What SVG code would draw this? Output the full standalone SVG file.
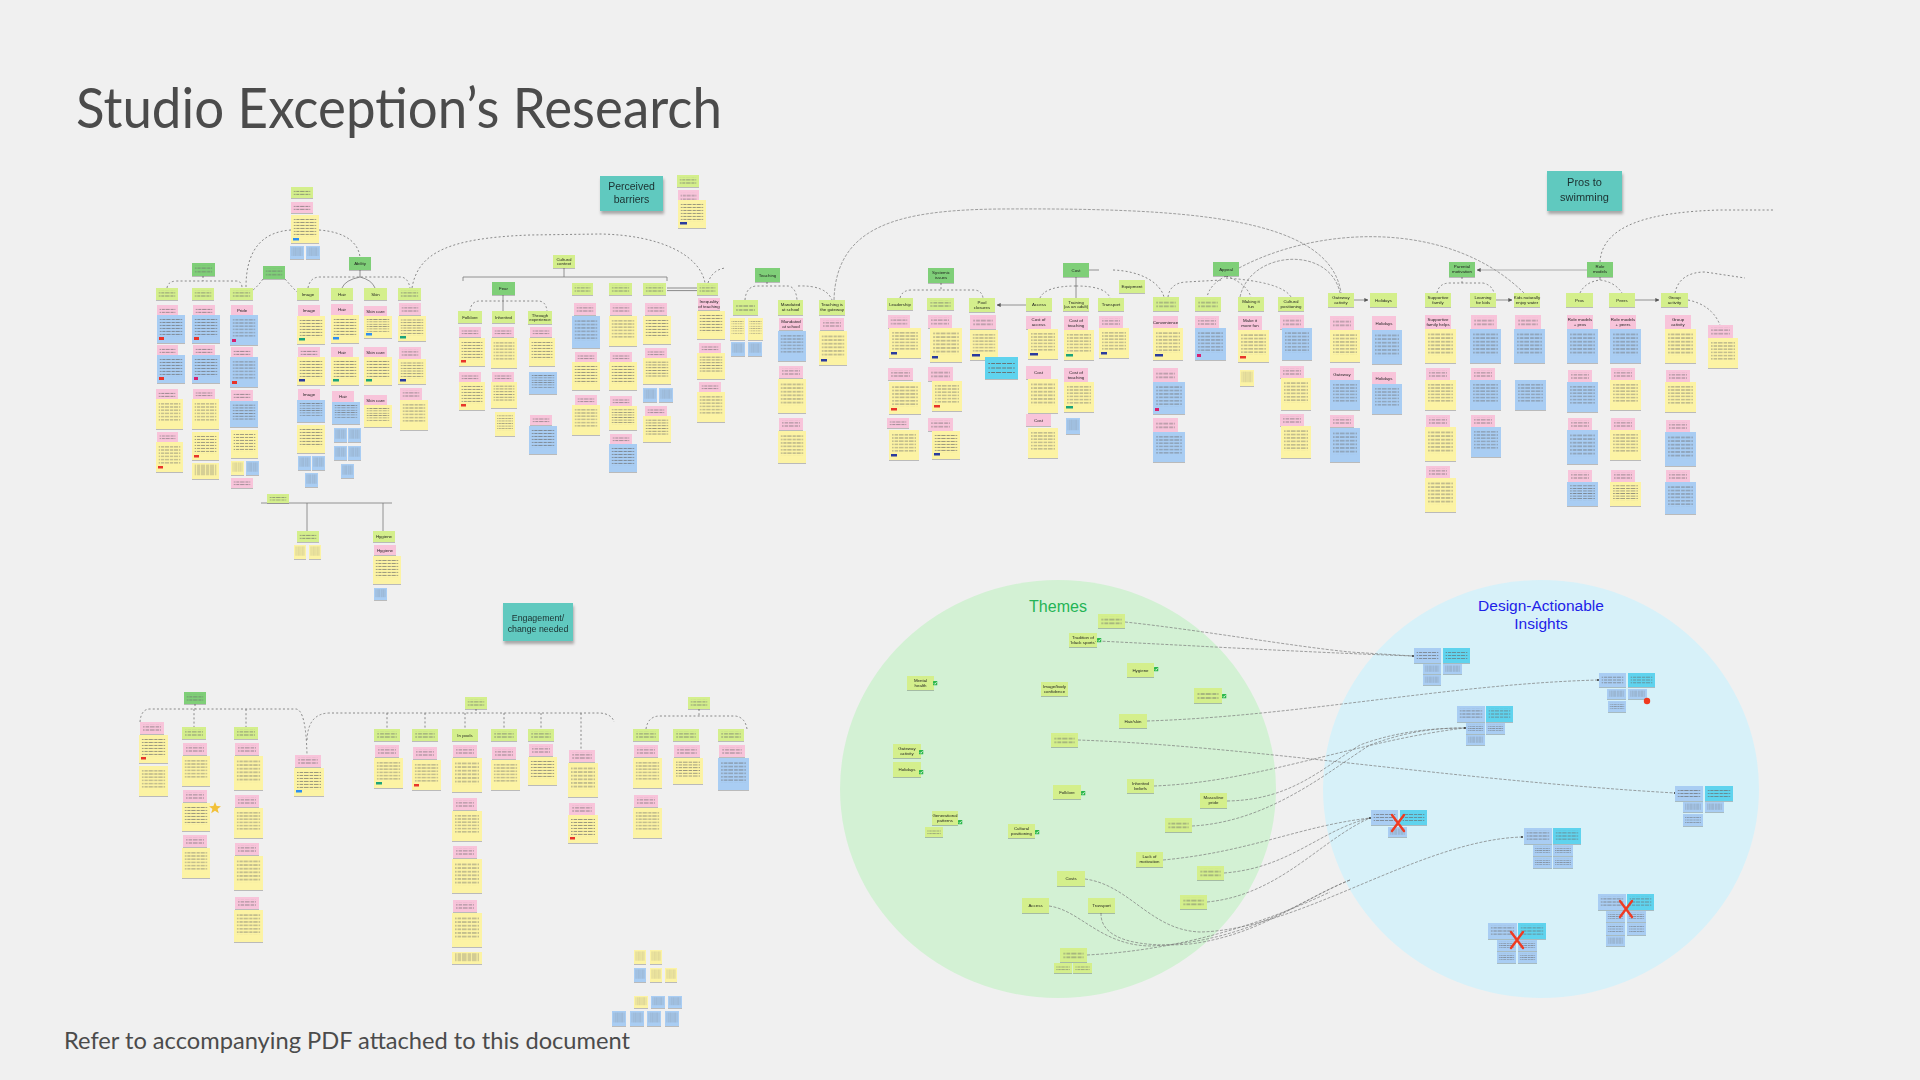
<svg xmlns="http://www.w3.org/2000/svg" width="1920" height="1080" viewBox="0 0 1920 1080">
<style>
.y{fill:#fcf3a4}.b{fill:#a9cdf3}.p{fill:#f8c4da}.g{fill:#d4ef8c}.d{fill:#7fcf78}.c{fill:#5fd3ee}.tl{fill:#60c9bf}
.tn{fill:#2b3a9e}.tr{fill:#e8352a}.tt{fill:#1aa37a}.tb{fill:#2d8ff0}.tm{fill:#d6246f}
.t{font-family:"Liberation Sans",Arial,sans-serif;font-size:4.4px;fill:#1f1f1f;text-anchor:middle}
.tt2{font-family:"Liberation Sans",Arial,sans-serif;fill:#1c3030;text-anchor:middle}
.con{fill:none;stroke:#6e6e6e;stroke-width:0.8;stroke-dasharray:2 2.2}
.sol{fill:none;stroke:#7a7a7a;stroke-width:0.8}
.lnk{fill:none;stroke:#7a7a7a;stroke-width:0.7;stroke-dasharray:3 1.5}
.x{stroke:#ef3b22;stroke-width:2.4;stroke-linecap:round}
.ck{fill:#2bb84a}
</style>
<defs>
<pattern id="tl" patternUnits="userSpaceOnUse" width="10" height="3.2"><path d="M0 1.6H4.6M5.6 1.6H9.2" stroke="#6a6a6a" stroke-width="0.7"/></pattern>
<filter id="sh" x="-5%" y="-5%" width="110%" height="115%"><feDropShadow dx="0" dy="0.8" stdDeviation="0.5" flood-color="#000" flood-opacity="0.28"/></filter>
<filter id="sh2" x="-10%" y="-10%" width="125%" height="140%"><feDropShadow dx="1" dy="3" stdDeviation="1.5" flood-color="#000" flood-opacity="0.3"/></filter>
<symbol id="Y" viewBox="0 0 30 30" preserveAspectRatio="none"><rect width="30" height="30" fill="#fcf3a4"/><rect x="3" y="3" width="24" height="20" fill="url(#tl)"/></symbol>
<symbol id="B" viewBox="0 0 30 30" preserveAspectRatio="none"><rect width="30" height="30" fill="#a9cdf3"/><rect x="3" y="3" width="24" height="20" fill="url(#tl)"/></symbol>
<symbol id="C" viewBox="0 0 30 16" preserveAspectRatio="none"><rect width="30" height="16" fill="#5fd3ee"/><rect x="3" y="2.5" width="24" height="10" fill="url(#tl)"/></symbol>
<symbol id="Bs" viewBox="0 0 30 16" preserveAspectRatio="none"><rect width="30" height="16" fill="#a9cdf3"/><rect x="3" y="2.5" width="24" height="10" fill="url(#tl)"/></symbol>
<symbol id="P" viewBox="0 0 24 12" preserveAspectRatio="none"><rect width="24" height="12" fill="#f8c4da"/><rect x="3" y="2.5" width="18" height="7" fill="url(#tl)"/></symbol>
<symbol id="GL" viewBox="0 0 24 12" preserveAspectRatio="none"><rect width="24" height="12" fill="#d4ef8c"/><rect x="3" y="2.5" width="18" height="7" fill="url(#tl)"/></symbol>
<symbol id="DL" viewBox="0 0 24 12" preserveAspectRatio="none"><rect width="24" height="12" fill="#7fcf78"/><rect x="3" y="2.5" width="18" height="7" fill="url(#tl)"/></symbol>
<marker id="ah" viewBox="0 0 6 6" refX="5.5" refY="3" markerWidth="5" markerHeight="5" orient="auto"><path d="M0,0 L6,3 L0,6z" fill="#555"/></marker>
<symbol id="ckm" viewBox="0 0 5 5"><rect width="5" height="5" rx="0.6" fill="#2bb84a"/><path d="M1 2.6L2.1 3.7L4 1.3" fill="none" stroke="#fff" stroke-width="0.8"/></symbol>
</defs>
<rect width="1920" height="1080" fill="#f0f0f0"/>

<text x="76" y="128" font-family="Lato, 'Liberation Sans', sans-serif" font-size="56" fill="#4b4b4b" textLength="646" lengthAdjust="spacingAndGlyphs">Studio Exception’s Research</text>
<text x="64" y="1049" font-family="Lato, 'Liberation Sans', sans-serif" font-size="23" fill="#4b4b4b" textLength="566" lengthAdjust="spacingAndGlyphs">Refer to accompanying PDF attached to this document</text>

<!-- circles -->
<ellipse cx="1058" cy="789" rx="218" ry="209" fill="#d3f1d4"/>
<ellipse cx="1541" cy="789" rx="218" ry="209" fill="#d7f1f9"/>
<text x="1058" y="612" font-family="'Liberation Sans',Arial,sans-serif" font-size="16" fill="#23b455" text-anchor="middle">Themes</text>
<text font-family="'Liberation Sans',Arial,sans-serif" font-size="15.5" fill="#1d22e8" text-anchor="middle"><tspan x="1541" y="611">Design-Actionable</tspan><tspan x="1541" y="629">Insights</tspan></text>

<!-- teal titles -->
<g id="perceived-barriers" filter="url(#sh2)"><rect class="tl" x="600" y="176" width="63" height="35"/><text class="tt2" font-size="10.5"><tspan x="631.5" y="189.5">Perceived</tspan><tspan x="631.5" y="203">barriers</tspan></text></g>
<g id="pros-to-swimming" filter="url(#sh2)"><rect class="tl" x="1547" y="171" width="75" height="40"/><text class="tt2" font-size="11"><tspan x="1584.5" y="186">Pros to</tspan><tspan x="1584.5" y="201">swimming</tspan></text></g>
<g id="engagement" filter="url(#sh2)"><rect class="tl" x="503" y="603" width="70" height="38"/><text class="tt2" font-size="8.8"><tspan x="538" y="621">Engagement/</tspan><tspan x="538" y="632">change needed</tspan></text></g>

<!-- connectors -->
<g id="connectors">
<path class="con" d="M291,230 C262,232 246,250 246,287"/>
<path class="con" d="M319,230 C345,232 358,242 360,257"/>
<path class="con" d="M167,288 Q168,281 177,281 L236,281 Q242,281 242,288 M203,276 V281"/>
<path class="con" d="M263,279 Q258,286 253,290 M285,279 Q292,287 297,292"/>
<path class="con" d="M308,288 Q310,277 320,277 L400,277 Q408,277 410,288"/>
<path class="sol" d="M360,270 V277 M360,277 Q345,280 342,288 M360,277 Q372,280 375,288"/>
<path class="con" d="M412,288 C418,252 450,238 530,235 L600,234 C660,235 700,255 705,283"/>
<path class="sol" d="M261,503 H392 M307,503 V531 M383,503 V531"/>
<path class="sol" d="M463,281 V277 H667 V281 M564,268 V277"/>
<path class="con" d="M470,311 Q471,301 480,301 L538,301 Q546,301 547,311"/>
<path class="sol" d="M503,295 V311"/>
<path d="M667,288 H697 M667,290.6 H697" stroke="#8a8a8a" stroke-width="1" fill="none"/>
<path class="con" d="M708,283 Q712,270 725,268"/>
<path class="con" d="M745,300 Q746,287 756,286 L788,286 Q796,287 797,300 M767,282 V286 M798,286 Q826,285 832,300"/>
<path class="lnk" d="M834,300 C836,225 900,210 1000,209 C1180,208 1330,215 1341,293"/>
<path class="con" d="M900,298 Q902,290 912,290 L975,290 Q982,291 983,298 M941,283 V290"/>
<path class="sol" d="M1026,305 H997" marker-end="url(#ah)"/>
<path class="sol" d="M1076,277 V298"/>
<path class="con" d="M1076,286 Q1045,286 1040,298 M1076,286 Q1106,286 1110,298"/>
<path class="sol" d="M1089,270 H1099"/>
<path class="con" d="M1113,270 C1140,271 1160,282 1164,297"/>
<path class="con" d="M1168,297 Q1170,283 1186,282 L1222,280 M1226,276 Q1210,284 1207,297 M1226,276 Q1246,283 1251,297 M1226,278 Q1282,282 1291,297"/>
<path class="lnk" d="M1240,297 C1250,250 1330,245 1340,293"/>
<path class="lnk" d="M1239,268 C1320,225 1450,220 1524,293"/>
<path class="sol" d="M1354,300 H1368" marker-end="url(#ah)"/>
<path class="con" d="M1437,293 Q1439,283 1450,283 L1483,283 Q1492,285 1494,293 M1462,277 V283"/>
<path class="sol" d="M1496,300 H1512" marker-end="url(#ah)"/>
<path d="M1587,270 H1477" stroke="#9a9a9a" stroke-width="0.8" fill="none" marker-end="url(#ah)"/>
<path class="con" d="M1580,293 Q1585,282 1600,280 Q1615,282 1622,293"/>
<path class="sol" d="M1600,277 V280"/>
<path class="sol" d="M1635,300 H1659" marker-end="url(#ah)"/>
<path class="con" d="M1688,300 Q1712,305 1720,325 M1675,293 C1678,278 1690,272 1705,272 L1745,278"/>
<path class="con" d="M1600,262 C1602,225 1650,212 1720,210 L1775,210"/>
<!-- lower -->
<path class="con" d="M140,722 Q141,709 150,709 L296,709 Q306,710 307,755 M195,704 V709 M194,709 V727 M246,709 V727"/>
<path class="con" d="M307,740 Q308,713 330,713 L600,713 Q612,714 614,722 M476,709 V713 M387,713 V729 M425,713 V729 M465,713 V729 M504,713 V729 M541,713 V729 M581,713 V750"/>
<path class="con" d="M646,729 Q648,716 660,716 L735,716 Q745,717 747,729 M699,709 V716"/>
<!-- themes to insights -->
<path class="lnk" d="M1125,622 C1200,630 1290,646 1350,652 L1413,656"/>
<path class="lnk" d="M1098,641 C1200,646 1300,652 1413,656"/>
<path class="lnk" d="M1147,721 C1300,716 1450,684 1598,680"/>
<path class="lnk" d="M1078,740 C1250,746 1450,780 1675,793"/>
<path class="lnk" d="M1154,786 C1260,782 1360,740 1465,728"/>
<path class="lnk" d="M1227,801 C1290,800 1320,770 1360,745 C1400,730 1440,728 1465,728"/>
<path class="lnk" d="M1192,826 C1270,822 1330,770 1370,745 C1410,730 1440,728 1465,728"/>
<path class="lnk" d="M1163,860 C1250,852 1300,826 1370,818"/>
<path class="lnk" d="M1224,873 C1290,868 1320,830 1370,818"/>
<path class="lnk" d="M1207,902 C1280,895 1320,840 1370,818"/>
<path class="lnk" d="M1085,879 C1130,885 1150,930 1200,932 C1300,930 1420,840 1522,837"/>
<path class="lnk" d="M1049,906 C1080,910 1100,945 1150,946 C1250,942 1300,900 1350,880"/>
<path class="lnk" d="M1101,913 C1100,940 1140,948 1190,944 C1260,935 1300,900 1350,880"/>
<path class="lnk" d="M1087,955 C1180,950 1260,925 1330,892"/>
<circle cx="1598" cy="680" r="1" fill="#333"/><circle cx="1413" cy="656" r="1" fill="#333"/><circle cx="1465" cy="728" r="1" fill="#333"/><circle cx="1370" cy="818" r="1" fill="#333"/><circle cx="1522" cy="837" r="1" fill="#333"/><circle cx="1675" cy="793" r="1" fill="#333"/>
</g>

<!-- ===== TOP LEFT CLUSTER ===== -->
<g id="top-stack" filter="url(#sh)">
<use href="#GL" x="291" y="187" width="22" height="11"/>
<use href="#P" x="291" y="202" width="22" height="11"/>
<use href="#Y" x="291" y="215" width="28" height="28"/><rect class="tb" x="293" y="238" width="6" height="2.5"/>
<use href="#B" x="290" y="246" width="14" height="13"/><use href="#B" x="306" y="246" width="14" height="13"/>
</g>
<g id="sub-headers" filter="url(#sh)">
<use href="#DL" x="192" y="263" width="23" height="13"/>
<use href="#DL" x="263" y="266" width="22" height="13"/>
<rect class="d" x="349" y="257" width="22" height="13"/><text class="t" x="360" y="265.2">Ability</text>
</g>
<g id="col-a" filter="url(#sh)">
<use href="#GL" x="156" y="288" width="22" height="12"/>
<use href="#P" x="157" y="305" width="21" height="11"/>
<use href="#B" x="157" y="315" width="28" height="28"/><rect class="tr" x="159" y="337" width="5" height="3"/>
<use href="#P" x="157" y="345" width="21" height="11"/>
<use href="#B" x="157" y="355" width="28" height="28"/><rect class="tr" x="159" y="377" width="5" height="3"/>
<use href="#P" x="156" y="389" width="22" height="11"/>
<use href="#Y" x="156" y="399" width="27" height="30"/>
<use href="#P" x="157" y="432" width="21" height="10"/>
<use href="#Y" x="156" y="442" width="27" height="30"/><rect class="tr" x="158" y="466" width="5" height="2.5"/>
</g>
<g id="col-b" filter="url(#sh)">
<use href="#GL" x="192" y="288" width="22" height="12"/>
<use href="#P" x="193" y="305" width="22" height="11"/>
<use href="#B" x="192" y="315" width="28" height="28"/><rect class="tr" x="194" y="337" width="5" height="3"/>
<use href="#P" x="193" y="345" width="22" height="11"/>
<use href="#B" x="192" y="355" width="28" height="28"/><rect class="tm" x="194" y="377" width="4" height="3"/>
<use href="#P" x="193" y="389" width="22" height="10"/>
<use href="#Y" x="192" y="399" width="27" height="30"/>
<use href="#Y" x="192" y="432" width="27" height="28"/><rect class="tr" x="194" y="455" width="5" height="2.5"/>
<use href="#Y" x="192" y="463" width="27" height="16"/>
</g>
<g id="col-c" filter="url(#sh)">
<use href="#GL" x="230" y="288" width="23" height="12"/>
<rect class="p" x="231" y="305" width="22" height="11"/><text class="t" x="242" y="312.3">Pride</text>
<use href="#B" x="230" y="315" width="28" height="30"/><rect class="tm" x="232" y="339" width="4" height="3"/>
<use href="#P" x="231" y="347" width="22" height="11"/>
<use href="#B" x="230" y="357" width="28" height="30"/><rect class="tr" x="232" y="381" width="5" height="3"/>
<use href="#P" x="231" y="390" width="22" height="11"/>
<use href="#B" x="230" y="401" width="28" height="26"/>
<use href="#Y" x="231" y="430" width="27" height="28"/>
<use href="#Y" x="231" y="461" width="13" height="14"/><use href="#B" x="246" y="461" width="13" height="14"/>
<use href="#P" x="231" y="478" width="22" height="10"/>
<use href="#GL" x="267" y="494" width="22" height="9"/>
</g>
<g id="col-image" filter="url(#sh)">
<rect class="g" x="297" y="288" width="22" height="12"/><text class="t" x="308" y="295.6">Image</text>
<rect class="p" x="298" y="305" width="22" height="11"/><text class="t" x="309" y="312.3">Image</text>
<use href="#Y" x="297" y="316" width="28" height="28"/><rect class="tt" x="299" y="338" width="6" height="2.5"/>
<use href="#P" x="298" y="347" width="22" height="11"/>
<use href="#Y" x="297" y="357" width="28" height="28"/><rect class="tn" x="299" y="379" width="6" height="2.5"/>
<rect class="p" x="298" y="389" width="22" height="11"/><text class="t" x="309" y="396.3">Image</text>
<use href="#B" x="297" y="400" width="28" height="22"/>
<use href="#Y" x="297" y="425" width="28" height="28"/>
<use href="#B" x="298" y="456" width="13" height="14"/><use href="#B" x="312" y="456" width="13" height="14"/>
<use href="#B" x="305" y="473" width="13" height="14"/>
</g>
<g id="col-hair" filter="url(#sh)">
<rect class="g" x="331" y="288" width="22" height="12"/><text class="t" x="342" y="295.6">Hair</text>
<rect class="p" x="331" y="304" width="22" height="11"/><text class="t" x="342" y="311.3">Hair</text>
<use href="#Y" x="331" y="315" width="28" height="28"/><rect class="tb" x="333" y="337" width="6" height="2.5"/>
<rect class="p" x="331" y="347" width="22" height="11"/><text class="t" x="342" y="354.3">Hair</text>
<use href="#Y" x="331" y="357" width="28" height="28"/><rect class="tt" x="333" y="379" width="6" height="2.5"/>
<rect class="p" x="332" y="391" width="22" height="11"/><text class="t" x="343" y="398.3">Hair</text>
<use href="#B" x="332" y="402" width="28" height="22"/>
<use href="#B" x="334" y="428" width="13" height="14"/><use href="#B" x="348" y="428" width="13" height="14"/>
<use href="#B" x="334" y="446" width="13" height="14"/><use href="#B" x="348" y="446" width="13" height="14"/>
<use href="#B" x="341" y="464" width="13" height="14"/>
</g>
<g id="col-skin" filter="url(#sh)">
<rect class="g" x="364" y="288" width="23" height="12"/><text class="t" x="375.5" y="295.6">Skin</text>
<rect class="p" x="364" y="306" width="23" height="10"/><text class="t" x="375.5" y="312.6">Skin care</text>
<use href="#Y" x="364" y="316" width="28" height="22"/><rect class="tb" x="366" y="333" width="6" height="2.5"/>
<rect class="p" x="364" y="347" width="23" height="10"/><text class="t" x="375.5" y="353.6">Skin care</text>
<use href="#Y" x="364" y="357" width="28" height="28"/><rect class="tt" x="366" y="379" width="6" height="2.5"/>
<rect class="p" x="364" y="395" width="23" height="10"/><text class="t" x="375.5" y="401.6">Skin care</text>
<use href="#Y" x="364" y="405" width="28" height="22"/>
</g>
<g id="col-bullying" filter="url(#sh)">
<use href="#GL" x="398" y="288" width="23" height="12"/>
<use href="#P" x="399" y="303" width="22" height="12"/>
<use href="#Y" x="398" y="316" width="28" height="25"/><rect class="tt" x="400" y="336" width="6" height="2.5"/>
<use href="#P" x="399" y="347" width="22" height="12"/>
<use href="#Y" x="398" y="359" width="28" height="25"/><rect class="tn" x="400" y="379" width="6" height="2.5"/>
<use href="#P" x="400" y="388" width="22" height="12"/>
<use href="#Y" x="400" y="400" width="28" height="30"/>
</g>
<g id="trust-hygiene" filter="url(#sh)">
<use href="#GL" x="297" y="531" width="22" height="11"/>
<use href="#Y" x="294" y="545" width="12" height="14"/><use href="#Y" x="309" y="545" width="12" height="14"/>
<rect class="g" x="373" y="531" width="22" height="11"/><text class="t" x="384" y="538">Hygiene</text>
<rect class="p" x="374" y="545" width="22" height="10"/><text class="t" x="385" y="551.5">Hygiene</text>
<use href="#Y" x="373" y="556" width="28" height="28"/>
<use href="#B" x="374" y="588" width="13" height="12"/>
</g>
<g id="barriers-stack" filter="url(#sh)">
<use href="#GL" x="677" y="175" width="22" height="12"/>
<use href="#P" x="678" y="190" width="21" height="14"/>
<use href="#Y" x="678" y="200" width="28" height="28"/><rect class="tn" x="680" y="222" width="7" height="2.5"/>
</g>

<!-- ===== CULTURAL CONTEXT ===== -->
<g id="cultural-context" filter="url(#sh)">
<rect class="g" x="553" y="255" width="22" height="13"/><text class="t"><tspan x="564" y="260.5">Cultural</tspan><tspan x="564" y="265.3">context</tspan></text>
<rect class="d" x="492" y="282" width="23" height="13"/><text class="t" x="503.5" y="290">Fear</text>
<rect class="g" x="458" y="311" width="24" height="12"/><text class="t" x="470" y="318.6">Folklore</text>
<rect class="g" x="492" y="311" width="23" height="12"/><text class="t" x="503.5" y="318.6">Inherited</text>
<rect class="g" x="528" y="311" width="24" height="13"/><text class="t"><tspan x="540" y="316.5">Through</tspan><tspan x="540" y="321.3">experience</tspan></text>
</g>
<g id="col-folklore" filter="url(#sh)">
<use href="#P" x="459" y="327" width="22" height="10"/>
<use href="#Y" x="459" y="338" width="26" height="28"/><rect class="tr" x="461" y="360" width="5" height="2.5"/>
<use href="#P" x="459" y="372" width="22" height="10"/>
<use href="#Y" x="459" y="382" width="26" height="28"/><rect class="tr" x="461" y="404" width="5" height="2.5"/>
</g>
<g id="col-inherited" filter="url(#sh)">
<use href="#P" x="492" y="327" width="22" height="10"/>
<use href="#Y" x="491" y="338" width="26" height="30"/>
<use href="#P" x="492" y="372" width="22" height="10"/>
<use href="#Y" x="491" y="382" width="26" height="26"/>
<use href="#Y" x="495" y="412" width="20" height="24"/>
</g>
<g id="col-experience" filter="url(#sh)">
<use href="#P" x="530" y="327" width="22" height="10"/>
<use href="#Y" x="529" y="338" width="26" height="28"/>
<use href="#B" x="529" y="372" width="28" height="22"/>
<use href="#P" x="530" y="415" width="22" height="10"/>
<use href="#B" x="529" y="426" width="28" height="28"/>
</g>
<g id="col-cc1" filter="url(#sh)">
<use href="#GL" x="572" y="283" width="21" height="12"/>
<use href="#P" x="574" y="303" width="22" height="12"/>
<use href="#B" x="572" y="316" width="28" height="32"/>
<use href="#P" x="575" y="352" width="22" height="10"/>
<use href="#Y" x="572" y="362" width="28" height="28"/>
<use href="#P" x="575" y="395" width="22" height="10"/>
<use href="#Y" x="572" y="405" width="28" height="30"/>
</g>
<g id="col-cc2" filter="url(#sh)">
<use href="#GL" x="609" y="283" width="23" height="12"/>
<use href="#P" x="610" y="303" width="22" height="12"/>
<use href="#Y" x="609" y="316" width="28" height="30"/>
<use href="#P" x="610" y="352" width="22" height="10"/>
<use href="#Y" x="609" y="362" width="28" height="28"/>
<use href="#P" x="610" y="396" width="22" height="10"/>
<use href="#Y" x="609" y="406" width="28" height="24"/>
<use href="#P" x="610" y="434" width="22" height="10"/>
<use href="#B" x="609" y="444" width="28" height="28"/>
</g>
<g id="col-cc3" filter="url(#sh)">
<use href="#GL" x="643" y="283" width="23" height="12"/>
<use href="#P" x="645" y="303" width="22" height="12"/>
<use href="#Y" x="643" y="316" width="28" height="28"/>
<use href="#P" x="645" y="348" width="22" height="10"/>
<use href="#Y" x="643" y="358" width="28" height="26"/>
<use href="#B" x="643" y="388" width="14" height="14"/><use href="#B" x="659" y="388" width="14" height="14"/>
<use href="#P" x="645" y="406" width="22" height="10"/>
<use href="#Y" x="643" y="416" width="28" height="26"/>
</g>
<g id="col-safe" filter="url(#sh)">
<use href="#GL" x="697" y="283" width="21" height="12"/>
<rect class="p" x="698" y="298" width="22" height="12"/><text class="t"><tspan x="709" y="303.3">Inequality</tspan><tspan x="709" y="308">of teaching</tspan></text>
<use href="#Y" x="697" y="311" width="28" height="28"/>
<use href="#P" x="699" y="343" width="22" height="10"/>
<use href="#Y" x="697" y="353" width="28" height="26"/>
<use href="#P" x="699" y="382" width="22" height="10"/>
<use href="#Y" x="697" y="392" width="28" height="30"/>
</g>

<!-- ===== TEACHING ===== -->
<g id="teaching" filter="url(#sh)">
<rect class="d" x="755" y="268" width="25" height="14"/><text class="t" x="767.5" y="276.6">Teaching</text>
<use href="#GL" x="733" y="300" width="25" height="15"/>
<rect class="g" x="778" y="300" width="25" height="15"/><text class="t"><tspan x="790.5" y="306.4">Mandated</tspan><tspan x="790.5" y="311.4">at school</tspan></text>
<rect class="g" x="819" y="300" width="26" height="15"/><text class="t"><tspan x="832" y="306.4">Teaching is</tspan><tspan x="832" y="311.4">the gateway</tspan></text>
<use href="#Y" x="730" y="318" width="15" height="22"/><use href="#Y" x="748" y="318" width="15" height="22"/>
<use href="#B" x="731" y="342" width="14" height="14"/><use href="#B" x="748" y="342" width="14" height="14"/>
<rect class="p" x="779" y="318" width="24" height="12"/><text class="t"><tspan x="791" y="323">Mandated</tspan><tspan x="791" y="327.8">at school</tspan></text>
<use href="#B" x="778" y="331" width="28" height="30"/>
<use href="#P" x="779" y="366" width="24" height="12"/>
<use href="#Y" x="778" y="379" width="28" height="34"/>
<use href="#P" x="779" y="418" width="24" height="12"/>
<use href="#Y" x="778" y="431" width="28" height="32"/>
<use href="#P" x="820" y="318" width="24" height="12"/>
<use href="#Y" x="819" y="331" width="28" height="34"/><rect class="tn" x="821" y="359" width="6" height="2.5"/>
</g>

<!-- ===== SYSTEMIC ISSUES ===== -->
<g id="systemic" filter="url(#sh)">
<rect class="d" x="928" y="268" width="26" height="15"/><text class="t"><tspan x="941" y="274.4">Systemic</tspan><tspan x="941" y="279.4">issues</tspan></text>
<rect class="g" x="887" y="298" width="26" height="12"/><text class="t" x="900" y="305.6">Leadership</text>
<use href="#GL" x="927" y="298" width="27" height="12"/>
<rect class="g" x="969" y="298" width="26" height="14"/><text class="t"><tspan x="982" y="303.8">Pool</tspan><tspan x="982" y="308.8">closures</tspan></text>
<use href="#P" x="888" y="315" width="22" height="13"/>
<use href="#Y" x="889" y="328" width="32" height="30"/><rect class="tn" x="891" y="352" width="6" height="2.5"/>
<use href="#P" x="888" y="368" width="25" height="12"/>
<use href="#Y" x="889" y="382" width="32" height="32"/><rect class="tr" x="891" y="408" width="6" height="2.5"/>
<use href="#P" x="887" y="418" width="22" height="10"/>
<use href="#Y" x="889" y="430" width="30" height="30"/><rect class="tn" x="891" y="454" width="6" height="2.5"/>
<use href="#P" x="928" y="315" width="24" height="13"/>
<use href="#Y" x="930" y="328" width="32" height="34"/><rect class="tn" x="932" y="356" width="6" height="2.5"/>
<use href="#P" x="928" y="367" width="25" height="14"/>
<use href="#Y" x="932" y="381" width="30" height="30"/><rect class="tr" x="934" y="405" width="6" height="2.5"/>
<use href="#P" x="928" y="418" width="25" height="13"/>
<use href="#Y" x="932" y="431" width="28" height="28"/><rect class="tn" x="934" y="453" width="6" height="2.5"/>
<use href="#P" x="970" y="315" width="26" height="14"/>
<use href="#Y" x="970" y="330" width="28" height="30"/><rect class="tn" x="972" y="354" width="8" height="2.5"/>
<use href="#C" x="985" y="357" width="33" height="22"/>
</g>

<!-- ===== COST ===== -->
<g id="cost" filter="url(#sh)">
<rect class="d" x="1063" y="263" width="26" height="14"/><text class="t" x="1076" y="271.6">Cost</text>
<rect class="g" x="1119" y="280" width="26" height="13"/><text class="t" x="1132" y="288">Equipment</text>
<rect class="g" x="1026" y="298" width="26" height="13"/><text class="t" x="1039" y="306">Access</text>
<rect class="g" x="1063" y="298" width="26" height="13"/><text class="t"><tspan x="1076" y="303.6">Training</tspan><tspan x="1076" y="308.4">(as an adult)</tspan></text>
<rect class="g" x="1098" y="298" width="26" height="13"/><text class="t" x="1111" y="306">Transport</text>
<rect class="p" x="1026" y="316" width="25" height="13"/><text class="t"><tspan x="1038.5" y="321.4">Cost of</tspan><tspan x="1038.5" y="326.2">access</tspan></text>
<use href="#Y" x="1028" y="329" width="30" height="30"/><rect class="tn" x="1030" y="353" width="8" height="2.5"/>
<rect class="p" x="1026" y="366" width="25" height="13"/><text class="t" x="1038.5" y="374">Cost</text>
<use href="#Y" x="1028" y="379" width="30" height="34"/>
<rect class="p" x="1026" y="414" width="25" height="12"/><text class="t" x="1038.5" y="421.6">Cost</text>
<use href="#Y" x="1028" y="428" width="30" height="30"/>
<rect class="p" x="1064" y="316" width="24" height="14"/><text class="t"><tspan x="1076" y="321.8">Cost of</tspan><tspan x="1076" y="326.6">teaching</tspan></text>
<use href="#Y" x="1064" y="330" width="30" height="30"/><rect class="tt" x="1066" y="354" width="7" height="2.5"/>
<rect class="p" x="1064" y="368" width="24" height="14"/><text class="t"><tspan x="1076" y="373.8">Cost of</tspan><tspan x="1076" y="378.6">teaching</tspan></text>
<use href="#Y" x="1064" y="382" width="30" height="30"/><rect class="tt" x="1066" y="406" width="7" height="2.5"/>
<use href="#B" x="1066" y="418" width="14" height="16"/>
<use href="#P" x="1099" y="316" width="24" height="12"/>
<use href="#Y" x="1099" y="328" width="30" height="30"/><rect class="tn" x="1101" y="352" width="6" height="2.5"/>
</g>

<!-- ===== APPEAL ===== -->
<g id="appeal" filter="url(#sh)">
<rect class="d" x="1213" y="262" width="26" height="14"/><text class="t" x="1226" y="270.6">Appeal</text>
<use href="#GL" x="1153" y="297" width="26" height="14"/>
<use href="#GL" x="1195" y="297" width="26" height="14"/>
<rect class="g" x="1238" y="297" width="26" height="14"/><text class="t"><tspan x="1251" y="302.8">Making it</tspan><tspan x="1251" y="307.6">fun</tspan></text>
<rect class="g" x="1278" y="297" width="26" height="14"/><text class="t"><tspan x="1291" y="302.8">Cultural</tspan><tspan x="1291" y="307.6">positioning</tspan></text>
<rect class="p" x="1153" y="316" width="25" height="12"/><text class="t" x="1165.5" y="323.6">Convenience</text>
<use href="#Y" x="1153" y="328" width="30" height="32"/><rect class="tn" x="1155" y="354" width="8" height="2.5"/>
<use href="#P" x="1153" y="368" width="25" height="14"/>
<use href="#B" x="1153" y="382" width="32" height="32"/><rect class="tm" x="1155" y="408" width="4" height="3"/>
<use href="#P" x="1153" y="418" width="25" height="14"/>
<use href="#B" x="1153" y="432" width="32" height="30"/>
<use href="#P" x="1195" y="316" width="24" height="12"/>
<use href="#B" x="1195" y="328" width="31" height="32"/><rect class="tm" x="1197" y="354" width="4" height="3"/>
<rect class="p" x="1238" y="316" width="24" height="14"/><text class="t"><tspan x="1250" y="321.8">Make it</tspan><tspan x="1250" y="326.6">more fun</tspan></text>
<use href="#Y" x="1238" y="330" width="31" height="32"/><rect class="tr" x="1240" y="356" width="6" height="2.5"/>
<use href="#Y" x="1240" y="370" width="14" height="16"/>
<use href="#P" x="1280" y="315" width="24" height="14"/>
<use href="#B" x="1282" y="328" width="30" height="32"/>
<use href="#P" x="1280" y="366" width="24" height="12"/>
<use href="#Y" x="1281" y="378" width="30" height="32"/>
<use href="#P" x="1280" y="414" width="24" height="12"/>
<use href="#Y" x="1281" y="426" width="30" height="32"/>
</g>

<!-- ===== GATEWAY / HOLIDAYS ===== -->
<g id="gateway" filter="url(#sh)">
<rect class="g" x="1328" y="293" width="26" height="14"/><text class="t"><tspan x="1341" y="298.8">Gateway</tspan><tspan x="1341" y="303.6">activity</tspan></text>
<rect class="g" x="1370" y="293" width="27" height="14"/><text class="t" x="1383.5" y="301.6">Holidays</text>
<use href="#P" x="1330" y="316" width="24" height="14"/>
<use href="#Y" x="1330" y="330" width="30" height="32"/>
<rect class="p" x="1330" y="368" width="24" height="12"/><text class="t" x="1342" y="375.6">Gateway</text>
<use href="#B" x="1330" y="380" width="30" height="30"/>
<use href="#P" x="1330" y="415" width="24" height="12"/>
<use href="#B" x="1330" y="428" width="30" height="34"/>
<rect class="p" x="1372" y="316" width="24" height="14"/><text class="t" x="1384" y="324.6">Holidays</text>
<use href="#B" x="1372" y="330" width="30" height="34"/>
<rect class="p" x="1372" y="372" width="24" height="12"/><text class="t" x="1384" y="379.6">Holidays</text>
<use href="#B" x="1372" y="384" width="30" height="30"/>
</g>

<!-- ===== PARENTAL MOTIVATION ===== -->
<g id="parental" filter="url(#sh)">
<rect class="d" x="1449" y="262" width="26" height="15"/><text class="t"><tspan x="1462" y="268.4">Parental</tspan><tspan x="1462" y="273.4">motivation</tspan></text>
<rect class="g" x="1425" y="293" width="26" height="14"/><text class="t"><tspan x="1438" y="298.8">Supportive</tspan><tspan x="1438" y="303.6">family</tspan></text>
<rect class="g" x="1470" y="293" width="26" height="14"/><text class="t"><tspan x="1483" y="298.8">Learning</tspan><tspan x="1483" y="303.6">for kids</tspan></text>
<rect class="g" x="1514" y="293" width="26" height="14"/><text class="t"><tspan x="1527" y="298.8">Kids naturally</tspan><tspan x="1527" y="303.6">enjoy water</tspan></text>
<rect class="p" x="1425" y="315" width="26" height="14"/><text class="t"><tspan x="1438" y="320.8">Supportive</tspan><tspan x="1438" y="325.6">family helps</tspan></text>
<use href="#Y" x="1425" y="329" width="31" height="34"/>
<use href="#P" x="1426" y="368" width="24" height="12"/>
<use href="#Y" x="1425" y="380" width="31" height="30"/>
<use href="#P" x="1426" y="415" width="24" height="12"/>
<use href="#Y" x="1425" y="427" width="31" height="34"/>
<use href="#P" x="1426" y="466" width="24" height="12"/>
<use href="#Y" x="1425" y="478" width="31" height="34"/>
<use href="#P" x="1471" y="315" width="26" height="14"/>
<use href="#B" x="1470" y="329" width="31" height="34"/>
<use href="#P" x="1471" y="368" width="24" height="12"/>
<use href="#B" x="1470" y="380" width="31" height="30"/>
<use href="#P" x="1471" y="415" width="24" height="12"/>
<use href="#B" x="1471" y="427" width="30" height="30"/>
<use href="#P" x="1515" y="315" width="26" height="14"/>
<use href="#B" x="1514" y="329" width="31" height="34"/>
<use href="#B" x="1515" y="380" width="31" height="30"/>
</g>

<!-- ===== ROLE MODELS ===== -->
<g id="role-models" filter="url(#sh)">
<rect class="d" x="1587" y="262" width="26" height="15"/><text class="t"><tspan x="1600" y="268.4">Role</tspan><tspan x="1600" y="273.4">models</tspan></text>
<rect class="g" x="1566" y="293" width="27" height="14"/><text class="t" x="1579.5" y="301.6">Pros</text>
<rect class="g" x="1609" y="293" width="26" height="14"/><text class="t" x="1622" y="301.6">Peers</text>
<rect class="g" x="1661" y="293" width="27" height="14"/><text class="t"><tspan x="1674.5" y="298.8">Group</tspan><tspan x="1674.5" y="303.6">activity</tspan></text>
<rect class="p" x="1567" y="315" width="26" height="14"/><text class="t"><tspan x="1580" y="320.8">Role models</tspan><tspan x="1580" y="325.6">+ pros</tspan></text>
<use href="#B" x="1567" y="329" width="31" height="34"/>
<use href="#P" x="1568" y="370" width="24" height="12"/>
<use href="#B" x="1567" y="382" width="31" height="30"/>
<use href="#P" x="1568" y="418" width="24" height="12"/>
<use href="#B" x="1567" y="430" width="31" height="34"/>
<use href="#P" x="1568" y="470" width="24" height="12"/>
<use href="#B" x="1567" y="482" width="31" height="24"/>
<rect class="p" x="1610" y="315" width="26" height="14"/><text class="t"><tspan x="1623" y="320.8">Role models</tspan><tspan x="1623" y="325.6">+ peers</tspan></text>
<use href="#B" x="1610" y="329" width="31" height="34"/>
<use href="#P" x="1611" y="368" width="24" height="12"/>
<use href="#Y" x="1610" y="380" width="31" height="30"/>
<use href="#P" x="1611" y="418" width="24" height="12"/>
<use href="#Y" x="1610" y="430" width="31" height="30"/>
<use href="#P" x="1611" y="470" width="24" height="12"/>
<use href="#Y" x="1610" y="482" width="31" height="24"/>
<rect class="p" x="1665" y="315" width="26" height="14"/><text class="t"><tspan x="1678" y="320.8">Group</tspan><tspan x="1678" y="325.6">activity</tspan></text>
<use href="#Y" x="1665" y="329" width="31" height="34"/>
<use href="#P" x="1666" y="370" width="24" height="12"/>
<use href="#Y" x="1665" y="382" width="31" height="30"/>
<use href="#P" x="1666" y="420" width="24" height="12"/>
<use href="#B" x="1665" y="432" width="31" height="34"/>
<use href="#P" x="1666" y="470" width="24" height="12"/>
<use href="#B" x="1665" y="482" width="31" height="32"/>
<use href="#P" x="1708" y="325" width="25" height="13"/>
<use href="#Y" x="1708" y="338" width="30" height="30"/>
</g>

<!-- ===== LOWER LEFT ===== -->
<g id="lower-benefits" filter="url(#sh)">
<use href="#DL" x="184" y="692" width="22" height="12"/>
<use href="#P" x="140" y="722" width="24" height="12"/>
<use href="#Y" x="139" y="735" width="29" height="28"/><rect class="tr" x="141" y="757" width="5" height="2.5"/>
<use href="#Y" x="139" y="766" width="29" height="30"/>
<use href="#GL" x="182" y="727" width="24" height="12"/>
<use href="#P" x="183" y="743" width="24" height="12"/>
<use href="#Y" x="182" y="756" width="28" height="30"/>
<use href="#P" x="183" y="790" width="24" height="12"/>
<use href="#Y" x="182" y="803" width="28" height="28"/>
<use href="#P" x="183" y="835" width="24" height="12"/>
<use href="#Y" x="182" y="848" width="28" height="30"/>
<use href="#GL" x="234" y="727" width="24" height="12"/>
<use href="#P" x="235" y="743" width="24" height="12"/>
<use href="#Y" x="234" y="756" width="29" height="34"/>
<use href="#P" x="235" y="795" width="24" height="12"/>
<use href="#Y" x="234" y="808" width="29" height="30"/>
<use href="#P" x="235" y="843" width="24" height="12"/>
<use href="#Y" x="234" y="856" width="29" height="34"/>
<use href="#P" x="235" y="897" width="24" height="12"/>
<use href="#Y" x="234" y="910" width="29" height="32"/>
<use href="#P" x="295" y="755" width="26" height="12"/>
<use href="#Y" x="294" y="768" width="30" height="28"/><rect class="tb" x="296" y="790" width="6" height="2.5"/>
</g>
<polygon points="215,802 216.6,806 221,806.3 217.6,809 218.8,813.3 215,810.8 211.2,813.3 212.4,809 209,806.3 213.4,806" fill="#f2c13a"/>
<g id="lower-changing" filter="url(#sh)">
<use href="#GL" x="465" y="697" width="22" height="12"/>
<use href="#GL" x="374" y="729" width="26" height="12"/>
<use href="#P" x="375" y="745" width="24" height="12"/>
<use href="#Y" x="374" y="758" width="29" height="30"/><rect class="tt" x="376" y="782" width="6" height="2.5"/>
<use href="#GL" x="412" y="729" width="26" height="12"/>
<use href="#P" x="413" y="747" width="24" height="12"/>
<use href="#Y" x="412" y="760" width="29" height="30"/><rect class="tr" x="414" y="784" width="5" height="2.5"/>
<rect class="g" x="452" y="729" width="26" height="12"/><text class="t" x="465" y="736.6">In pools</text>
<use href="#P" x="453" y="745" width="24" height="12"/>
<use href="#Y" x="452" y="758" width="30" height="34"/>
<use href="#P" x="453" y="798" width="24" height="12"/>
<use href="#Y" x="452" y="811" width="30" height="30"/>
<use href="#P" x="453" y="846" width="24" height="12"/>
<use href="#Y" x="452" y="859" width="30" height="34"/>
<use href="#P" x="453" y="900" width="24" height="12"/>
<use href="#Y" x="452" y="913" width="30" height="34"/>
<use href="#Y" x="452" y="952" width="30" height="12"/>
<use href="#GL" x="491" y="729" width="26" height="12"/>
<use href="#P" x="492" y="747" width="24" height="12"/>
<use href="#Y" x="491" y="760" width="29" height="30"/>
<use href="#GL" x="528" y="729" width="26" height="12"/>
<use href="#P" x="529" y="744" width="24" height="12"/>
<use href="#Y" x="528" y="757" width="29" height="28"/>
<use href="#P" x="569" y="750" width="26" height="12"/>
<use href="#Y" x="568" y="763" width="30" height="34"/>
<use href="#P" x="569" y="803" width="26" height="12"/>
<use href="#Y" x="568" y="815" width="30" height="28"/><rect class="tr" x="570" y="837" width="5" height="2.5"/>
</g>
<g id="lower-inclusion" filter="url(#sh)">
<use href="#GL" x="688" y="697" width="22" height="12"/>
<use href="#GL" x="633" y="729" width="26" height="12"/>
<use href="#P" x="634" y="745" width="24" height="12"/>
<use href="#Y" x="633" y="758" width="29" height="30"/>
<use href="#P" x="634" y="795" width="24" height="12"/>
<use href="#Y" x="633" y="808" width="29" height="30"/>
<use href="#GL" x="673" y="729" width="26" height="12"/>
<use href="#P" x="674" y="745" width="26" height="12"/>
<use href="#Y" x="673" y="758" width="30" height="26"/>
<use href="#GL" x="718" y="729" width="26" height="12"/>
<use href="#P" x="719" y="745" width="26" height="12"/>
<use href="#B" x="718" y="758" width="31" height="32"/>
</g>
<g id="lower-small" filter="url(#sh)">
<use href="#Y" x="634" y="950" width="12" height="14"/><use href="#Y" x="650" y="950" width="12" height="14"/>
<use href="#B" x="634" y="968" width="12" height="14"/><use href="#Y" x="650" y="968" width="12" height="14"/><use href="#Y" x="665" y="968" width="12" height="14"/>
<use href="#Y" x="634" y="996" width="14" height="12"/><use href="#B" x="651" y="996" width="14" height="12"/><use href="#B" x="668" y="996" width="14" height="12"/>
<use href="#B" x="612" y="1011" width="14" height="15"/><use href="#B" x="630" y="1011" width="14" height="15"/><use href="#B" x="647" y="1011" width="14" height="15"/><use href="#B" x="665" y="1011" width="14" height="15"/>
</g>

<!-- ===== THEMES ===== -->
<g id="themes" filter="url(#sh)">
<use href="#GL" x="1098" y="614" width="27" height="14"/>
<rect class="g" x="1069" y="633" width="28" height="14"/><text class="t"><tspan x="1083" y="638.8">Tradition of</tspan><tspan x="1083" y="643.6">'black sports'</tspan></text>
<rect class="g" x="1127" y="663" width="27" height="14"/><text class="t" x="1140.5" y="671.6">Hygiene</text>
<rect class="g" x="907" y="676" width="27" height="14"/><text class="t"><tspan x="920.5" y="681.8">Mental</tspan><tspan x="920.5" y="686.6">health</tspan></text>
<rect class="g" x="1041" y="682" width="27" height="14"/><text class="t"><tspan x="1054.5" y="687.8">Image/body</tspan><tspan x="1054.5" y="692.6">confidence</tspan></text>
<use href="#GL" x="1194" y="688" width="28" height="15"/>
<rect class="g" x="1119" y="714" width="28" height="14"/><text class="t" x="1133" y="722.6">Hair/skin</text>
<use href="#GL" x="1051" y="733" width="27" height="14"/>
<rect class="g" x="893" y="744" width="28" height="14"/><text class="t"><tspan x="907" y="749.8">Gateway</tspan><tspan x="907" y="754.6">activity</tspan></text>
<rect class="g" x="893" y="762" width="28" height="15"/><text class="t" x="907" y="771">Holidays</text>
<rect class="g" x="1127" y="779" width="27" height="14"/><text class="t"><tspan x="1140.5" y="784.8">Inherited</tspan><tspan x="1140.5" y="789.6">beliefs</tspan></text>
<rect class="g" x="1053" y="785" width="28" height="14"/><text class="t" x="1067" y="793.6">Folklore</text>
<rect class="g" x="1200" y="793" width="27" height="15"/><text class="t"><tspan x="1213.5" y="799.3">Masculine</tspan><tspan x="1213.5" y="804.1">pride</tspan></text>
<rect class="g" x="932" y="811" width="26" height="14"/><text class="t"><tspan x="945" y="816.8">Generational</tspan><tspan x="945" y="821.6">patterns</tspan></text>
<use href="#GL" x="925" y="827" width="18" height="10"/>
<rect class="g" x="1008" y="824" width="27" height="14"/><text class="t"><tspan x="1021.5" y="829.8">Cultural</tspan><tspan x="1021.5" y="834.6">positioning</tspan></text>
<use href="#GL" x="1165" y="818" width="27" height="14"/>
<rect class="g" x="1136" y="852" width="27" height="15"/><text class="t"><tspan x="1149.5" y="858.3">Lack of</tspan><tspan x="1149.5" y="863.1">motivation</tspan></text>
<use href="#GL" x="1197" y="866" width="27" height="14"/>
<rect class="g" x="1057" y="871" width="28" height="15"/><text class="t" x="1071" y="880">Costs</text>
<use href="#GL" x="1180" y="895" width="27" height="14"/>
<rect class="g" x="1022" y="898" width="27" height="15"/><text class="t" x="1035.5" y="907">Access</text>
<rect class="g" x="1088" y="898" width="27" height="15"/><text class="t" x="1101.5" y="907">Transport</text>
<use href="#GL" x="1060" y="948" width="27" height="14"/>
<use href="#GL" x="1054" y="963" width="18" height="10"/><use href="#GL" x="1073" y="963" width="19" height="10"/>
</g>
<g id="checks">
<use href="#ckm" x="1097" y="638" width="4.5" height="4.5"/>
<use href="#ckm" x="1154" y="667" width="4.5" height="4.5"/>
<use href="#ckm" x="933" y="681" width="4.5" height="4.5"/>
<use href="#ckm" x="1222" y="694" width="4.5" height="4.5"/>
<use href="#ckm" x="919" y="750" width="4.5" height="4.5"/>
<use href="#ckm" x="919" y="770" width="4.5" height="4.5"/>
<use href="#ckm" x="1081" y="791" width="4.5" height="4.5"/>
<use href="#ckm" x="958" y="820" width="4.5" height="4.5"/>
<use href="#ckm" x="1035" y="830" width="4.5" height="4.5"/>
</g>

<!-- ===== INSIGHTS ===== -->
<g id="insight-1" filter="url(#sh)">
<use href="#Bs" x="1414" y="648" width="27" height="15"/><use href="#C" x="1443" y="648" width="27" height="15"/>
<use href="#Bs" x="1423" y="664" width="18" height="10"/><use href="#Bs" x="1443" y="664" width="19" height="10"/>
<use href="#Bs" x="1423" y="675" width="18" height="10"/>
</g>
<g id="insight-2" filter="url(#sh)">
<use href="#Bs" x="1599" y="673" width="27" height="14"/><use href="#C" x="1628" y="673" width="27" height="14"/>
<use href="#Bs" x="1607" y="689" width="19" height="10"/><use href="#Bs" x="1628" y="689" width="19" height="10"/>
<use href="#Bs" x="1608" y="701" width="18" height="11"/>
</g>
<circle cx="1647" cy="701" r="3.2" fill="#f0391e"/>
<g id="insight-3" filter="url(#sh)">
<use href="#Bs" x="1457" y="706" width="28" height="16"/><use href="#C" x="1486" y="706" width="27" height="16"/>
<use href="#Bs" x="1466" y="723" width="19" height="11"/><use href="#Bs" x="1486" y="723" width="19" height="11"/>
<use href="#Bs" x="1466" y="735" width="19" height="10"/>
</g>
<g id="insight-4" filter="url(#sh)">
<use href="#Bs" x="1371" y="810" width="27" height="15"/><use href="#C" x="1400" y="810" width="27" height="15"/>
<use href="#Bs" x="1388" y="827" width="19" height="10"/>
</g>
<g id="insight-5" filter="url(#sh)">
<use href="#Bs" x="1675" y="786" width="28" height="15"/><use href="#C" x="1705" y="786" width="28" height="15"/>
<use href="#Bs" x="1683" y="802" width="20" height="10"/><use href="#Bs" x="1705" y="802" width="19" height="10"/>
<use href="#Bs" x="1683" y="814" width="20" height="12"/>
</g>
<g id="insight-6" filter="url(#sh)">
<use href="#Bs" x="1524" y="828" width="28" height="16"/><use href="#C" x="1553" y="828" width="28" height="16"/>
<use href="#Bs" x="1533" y="845" width="19" height="11"/><use href="#Bs" x="1553" y="845" width="20" height="11"/>
<use href="#Bs" x="1533" y="857" width="19" height="11"/><use href="#Bs" x="1553" y="857" width="20" height="11"/>
</g>
<g id="insight-7" filter="url(#sh)">
<use href="#Bs" x="1598" y="894" width="28" height="16"/><use href="#C" x="1627" y="894" width="27" height="16"/>
<use href="#Bs" x="1606" y="911" width="19" height="11"/><use href="#Bs" x="1627" y="911" width="19" height="11"/>
<use href="#Bs" x="1606" y="923" width="19" height="12"/><use href="#Bs" x="1627" y="923" width="19" height="12"/>
<use href="#Bs" x="1606" y="936" width="19" height="10"/>
</g>
<g id="insight-8" filter="url(#sh)">
<use href="#Bs" x="1488" y="923" width="29" height="16"/><use href="#C" x="1518" y="923" width="28" height="16"/>
<use href="#Bs" x="1497" y="940" width="19" height="11"/><use href="#Bs" x="1518" y="940" width="19" height="11"/>
<use href="#Bs" x="1497" y="952" width="19" height="11"/><use href="#Bs" x="1518" y="952" width="19" height="11"/>
</g>
<g id="crosses">
<path class="x" d="M1392,815 L1404,831 M1404,815 L1392,831"/>
<path class="x" d="M1620,901 L1632,917 M1632,901 L1620,917"/>
<path class="x" d="M1511,932 L1523,948 M1523,932 L1511,948"/>
</g>
</svg>
